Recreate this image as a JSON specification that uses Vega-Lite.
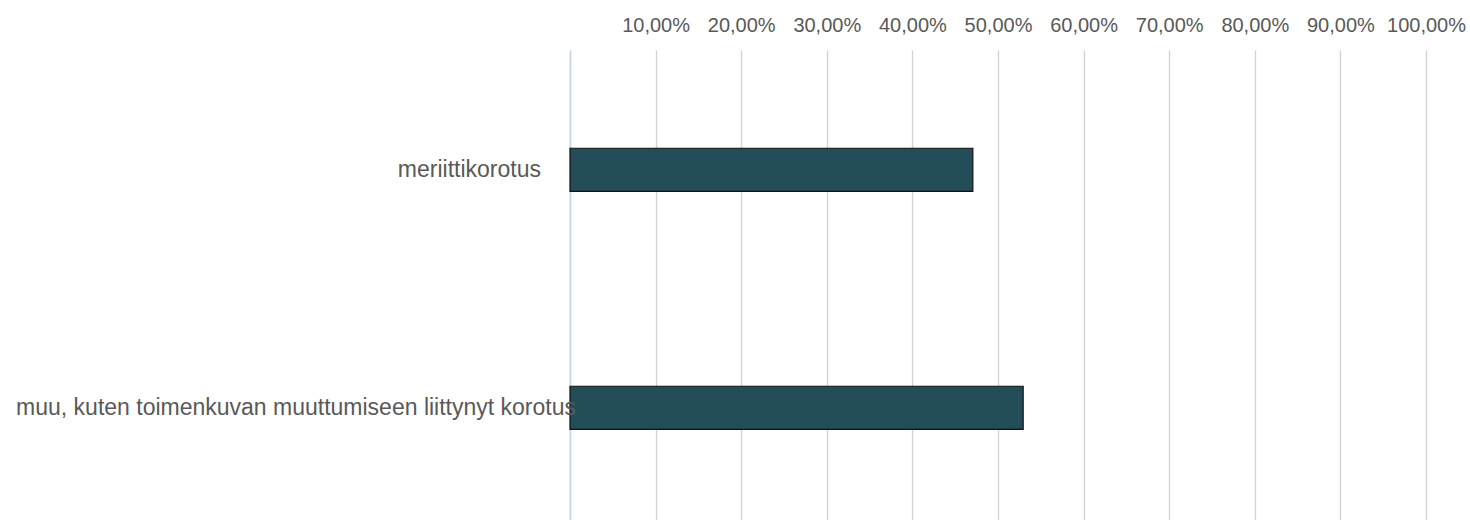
{
  "$schema": "https://vega.github.io/schema/vega-lite/v6.json",
  "width": 856,
  "height": 470,
  "autosize": "none",
  "padding": {"left": 570, "top": 50, "right": 44, "bottom": 0},
  "background": "white",
  "config": {"view": {"stroke": null}, "font": "Liberation Sans"},
  "data": {
    "values": [
      {"kategoria": "meriittikorotus", "osuus": 47.06},
      {"kategoria": "muu, kuten toimenkuvan muuttumiseen liittynyt korotus", "osuus": 52.94}
    ]
  },
  "encoding": {
    "y": {
      "field": "kategoria",
      "type": "nominal",
      "sort": null,
      "scale": {"paddingInner": 0.819, "paddingOuter": 0.397, "align": 0.52},
      "axis": {
        "title": null,
        "ticks": false,
        "labels": false,
        "domainColor": "#c5d1de",
        "domainWidth": 1.5
      }
    }
  },
  "layer": [
    {
      "mark": {"type": "bar", "fill": "#244d5a", "stroke": "#111111", "strokeWidth": 1.2},
      "encoding": {
        "x": {
          "field": "osuus",
          "type": "quantitative",
          "scale": {"domain": [0, 100], "nice": false},
          "axis": {
            "orient": "top",
            "title": null,
            "values": [0, 10, 20, 30, 40, 50, 60, 70, 80, 90, 100],
            "labelExpr": "datum.value == 0 ? '' : replace(format(datum.value, '.2f'), '.', ',') + '%'",
            "domain": false,
            "ticks": false,
            "labelPadding": 19,
            "labelBaseline": "alphabetic",
            "labelFontSize": 20,
            "labelColor": "#595959",
            "labelFlush": false,
            "labelOverlap": false,
            "gridColor": "#d2d2d2",
            "gridWidth": 1.3
          }
        }
      }
    },
    {
      "transform": [{"filter": "datum.kategoria == 'meriittikorotus'"}],
      "mark": {"type": "text", "align": "right", "baseline": "middle", "dx": -29, "fontSize": 23, "color": "#595959"},
      "encoding": {
        "x": {"datum": 0, "type": "quantitative"},
        "text": {"field": "kategoria"}
      }
    },
    {
      "transform": [{"filter": "datum.kategoria != 'meriittikorotus'"}],
      "mark": {"type": "text", "align": "right", "baseline": "middle", "dx": 6, "fontSize": 23, "color": "#595959"},
      "encoding": {
        "x": {"datum": 0, "type": "quantitative"},
        "text": {"field": "kategoria"}
      }
    }
  ]
}
